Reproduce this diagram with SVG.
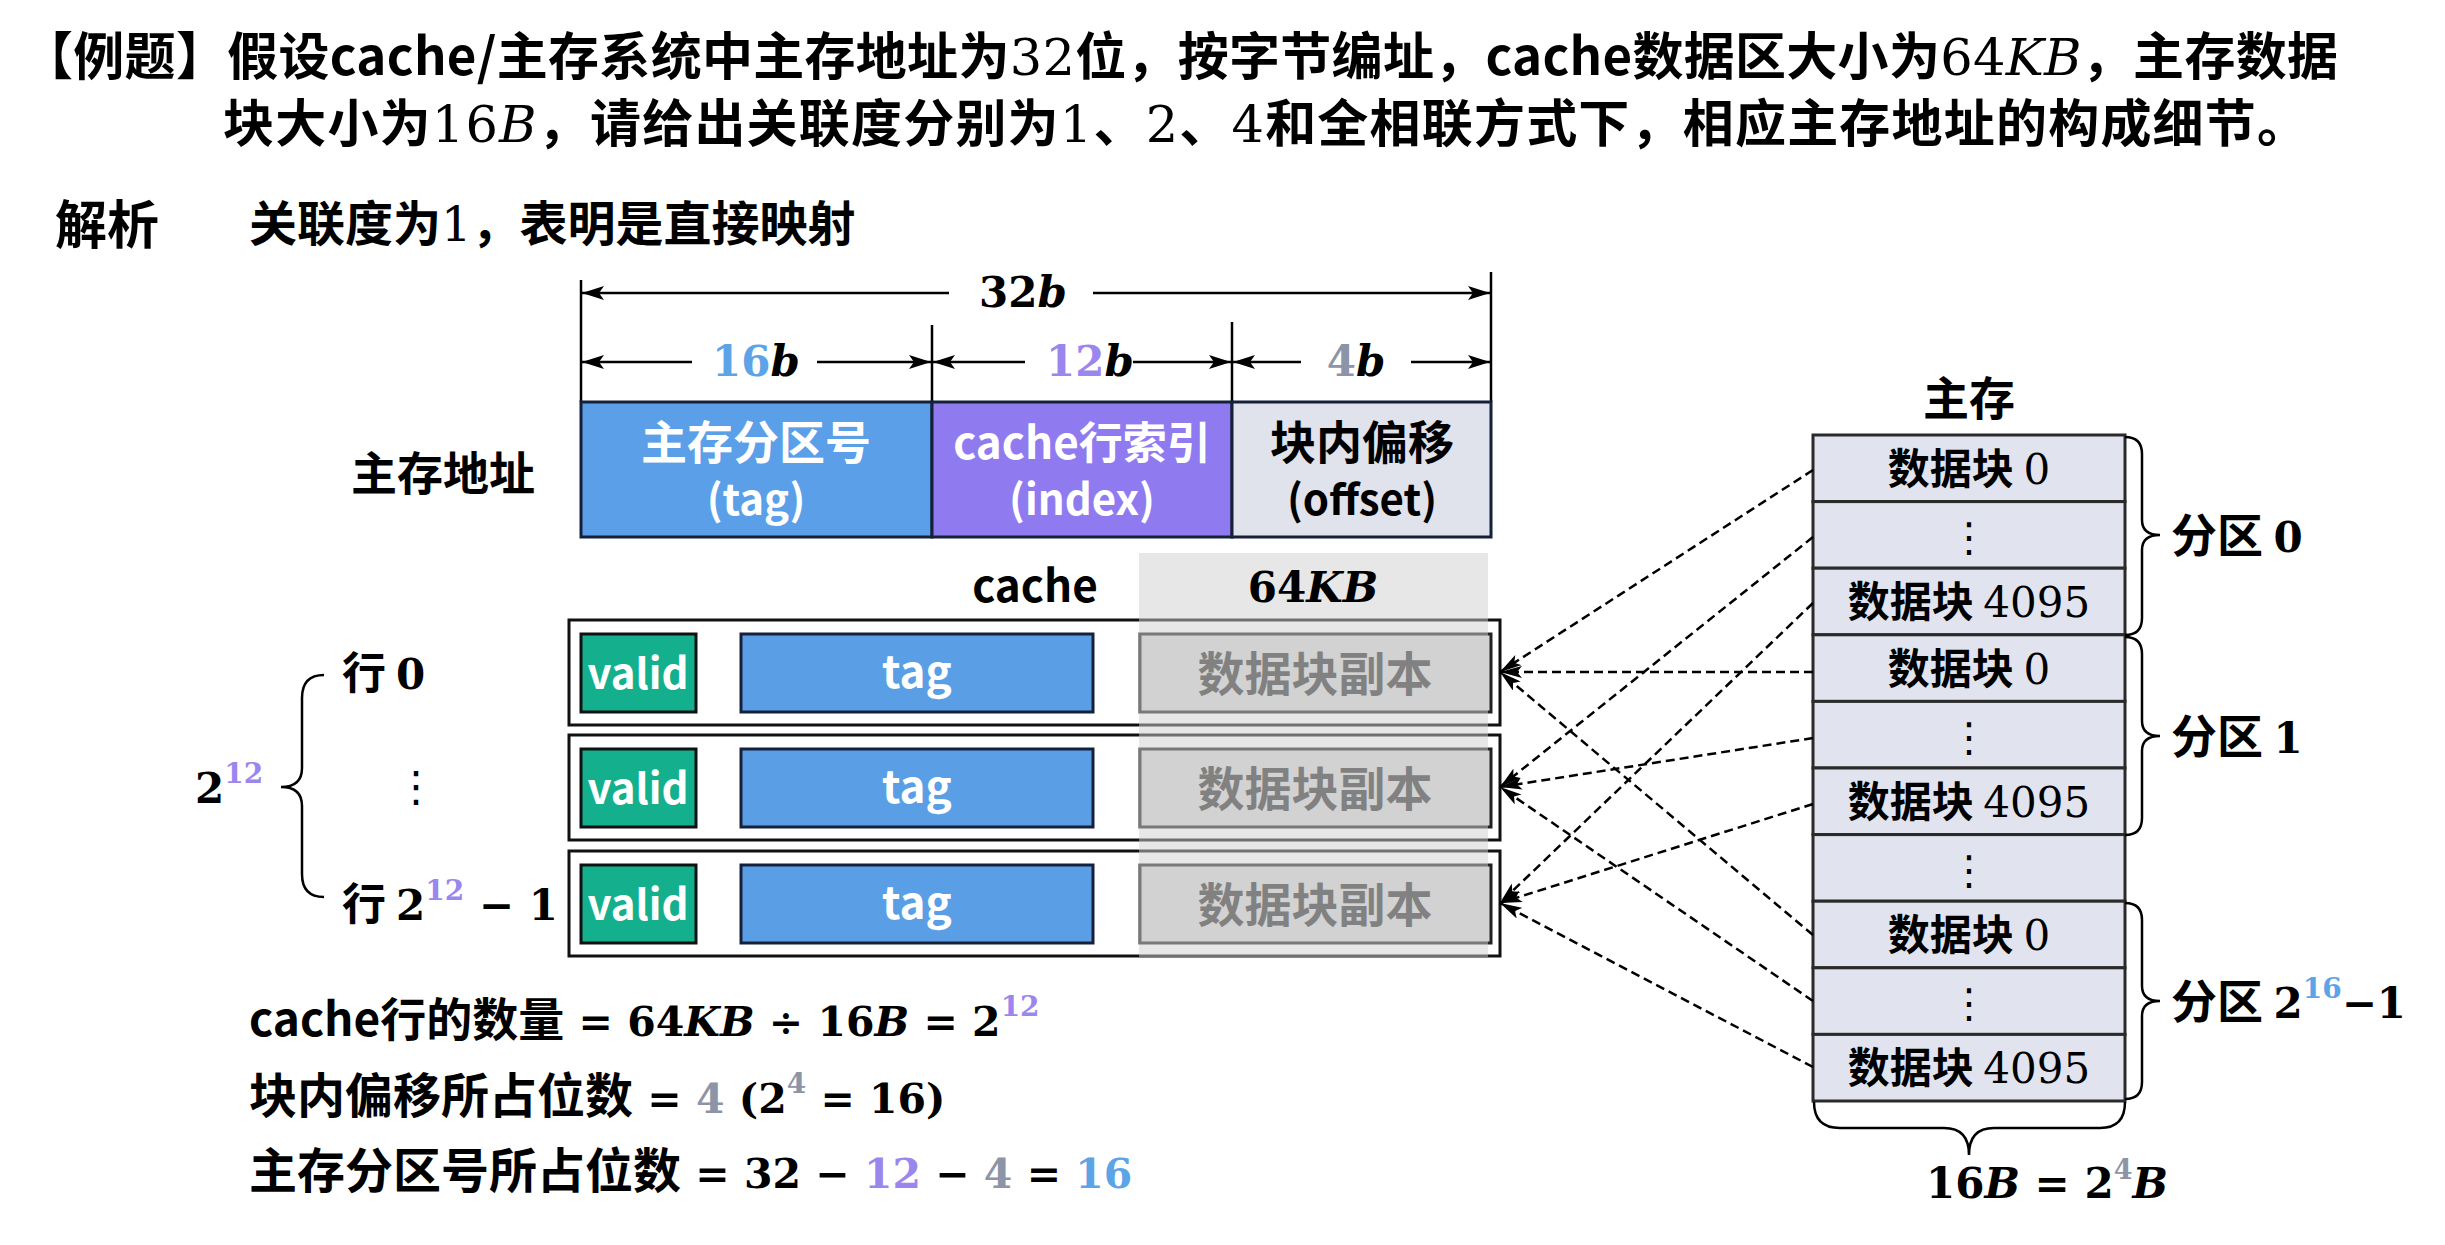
<svg xmlns="http://www.w3.org/2000/svg" width="2445" height="1245" viewBox="0 0 2445 1245">
<style>
.cn{font-family:"Noto Sans CJK SC","Liberation Sans",sans-serif;font-weight:700}
.m{font-family:"DejaVu Serif","Liberation Serif",serif;font-weight:400}
.mb{font-family:"DejaVu Serif","Liberation Serif",serif;font-weight:700}
.i{font-style:italic}
.w{fill:#ffffff}
.k{fill:#000000}
.blue{fill:#5DA4E6}
.purp{fill:#9B86EE}
.gry{fill:#8C94A8}
.dim{stroke:#000;stroke-width:2.5;fill:none}
.cell{fill:#E1E4EE;stroke:#2a2a2a;stroke-width:3}
.rowbox{fill:none;stroke:#111;stroke-width:3}
.valid{fill:#14B08D;stroke:#111;stroke-width:3}
.ctag{fill:#5A9FE6;stroke:#15213a;stroke-width:3}
.copy{fill:#D4D4D4;stroke:#222;stroke-width:3}
.brace{fill:none;stroke:#000;stroke-width:2.5}
.conn{fill:none;stroke:#000;stroke-width:2.5;stroke-dasharray:9 5}
.mid{text-anchor:middle}
.vd{font-family:"DejaVu Sans",sans-serif;font-weight:400}
</style>
<defs>
<marker id="dimArrow" viewBox="0 0 22 14" refX="22" refY="7" markerWidth="22" markerHeight="14" markerUnits="userSpaceOnUse" orient="auto">
<path d="M0,0 L22,7 L0,14 L5,7 Z" fill="#000"/>
</marker>
<marker id="conArrow" viewBox="0 0 22 12" refX="22" refY="6" markerWidth="22" markerHeight="12" markerUnits="userSpaceOnUse" orient="auto">
<path d="M0,0 L22,6 L0,12 L5,6 Z" fill="#000"/>
</marker>
</defs>
<rect x="0" y="0" width="2445" height="1245" fill="#ffffff"/>

<g id="title">
<text class="cn" x="22" y="75" font-size="51" textLength="2316" lengthAdjust="spacing">【例题】假设cache/主存系统中主存地址为<tspan class="m">32</tspan>位，按字节编址，cache数据区大小为<tspan class="m">64<tspan class="i">KB</tspan></tspan>，主存数据</text>
<text class="cn" x="223" y="142" font-size="51" textLength="2085" lengthAdjust="spacing">块大小为<tspan class="m">16<tspan class="i">B</tspan></tspan>，请给出关联度分别为<tspan class="m">1</tspan>、<tspan class="m">2</tspan>、<tspan class="m">4</tspan>和全相联方式下，相应主存地址的构成细节。</text>
<text class="cn" x="55" y="244" font-size="52">解析</text>
<text class="cn" x="249" y="241" font-size="48">关联度为<tspan class="m">1</tspan>，表明是直接映射</text>
</g>

<g id="address-label">
<text class="cn" x="443" y="490" font-size="46" text-anchor="middle">主存地址</text>
</g>

<g id="dimensions">
<line class="dim" x1="581" y1="280" x2="581" y2="402"/>
<line class="dim" x1="1491" y1="272" x2="1491" y2="402"/>
<line class="dim" x1="932" y1="325" x2="932" y2="402"/>
<line class="dim" x1="1232" y1="322" x2="1232" y2="402"/>
<line class="dim" x1="949" y1="293" x2="582" y2="293" marker-end="url(#dimArrow)"/>
<line class="dim" x1="1093" y1="293" x2="1490" y2="293" marker-end="url(#dimArrow)"/>
<line class="dim" x1="692" y1="362" x2="582" y2="362" marker-end="url(#dimArrow)"/>
<line class="dim" x1="817" y1="362" x2="931" y2="362" marker-end="url(#dimArrow)"/>
<line class="dim" x1="1025" y1="362" x2="933" y2="362" marker-end="url(#dimArrow)"/>
<line class="dim" x1="1133" y1="362" x2="1231" y2="362" marker-end="url(#dimArrow)"/>
<line class="dim" x1="1301" y1="362" x2="1233" y2="362" marker-end="url(#dimArrow)"/>
<line class="dim" x1="1411" y1="362" x2="1490" y2="362" marker-end="url(#dimArrow)"/>
<text class="mb mid" x="1023" y="307" font-size="42">32<tspan class="i">b</tspan></text>
<text class="mb mid" x="756" y="376" font-size="42"><tspan class="blue">16</tspan><tspan class="i">b</tspan></text>
<text class="mb mid" x="1090" y="376" font-size="42"><tspan class="purp">12</tspan><tspan class="i">b</tspan></text>
<text class="mb mid" x="1356" y="376" font-size="42"><tspan class="gry">4</tspan><tspan class="i">b</tspan></text>
</g>

<g id="address-tag">
<rect x="581" y="402" width="351" height="135" fill="#5A9FE8" stroke="#15213a" stroke-width="3"/>
<text class="cn w mid" x="756" y="459" font-size="46">主存分区号</text>
<text class="cn w mid" x="756" y="515" font-size="42">(tag)</text>
</g>
<g id="address-index">
<rect x="932" y="402" width="300" height="135" fill="#8F7BEF" stroke="#15213a" stroke-width="3"/>
<text class="cn w mid" x="1082" y="459" font-size="44">cache行索引</text>
<text class="cn w mid" x="1082" y="515" font-size="42">(index)</text>
</g>
<g id="address-offset">
<rect x="1232" y="402" width="259" height="135" fill="#E0E2EC" stroke="#15213a" stroke-width="3"/>
<text class="cn k mid" x="1362" y="459" font-size="46">块内偏移</text>
<text class="cn k mid" x="1362" y="515" font-size="42">(offset)</text>
</g>

<g id="cache-header">
<text class="cn mid" x="1035" y="602" font-size="44">cache</text>
</g>

<g id="cache-row-0">
<rect class="rowbox" x="569" y="620" width="931" height="105"/>
<rect class="valid" x="581" y="634" width="115" height="78"/>
<text class="cn w mid" x="638" y="689" font-size="42">valid</text>
<rect class="ctag" x="741" y="634" width="352" height="78"/>
<text class="cn w mid" x="917" y="688" font-size="44">tag</text>
<rect class="copy" x="1140" y="634" width="351" height="78"/>
<text class="cn mid" x="1315" y="691" font-size="47" fill="#333">数据块副本</text>
</g>
<g id="cache-row-1">
<rect class="rowbox" x="569" y="735" width="931" height="105"/>
<rect class="valid" x="581" y="749" width="115" height="78"/>
<text class="cn w mid" x="638" y="804" font-size="42">valid</text>
<rect class="ctag" x="741" y="749" width="352" height="78"/>
<text class="cn w mid" x="917" y="803" font-size="44">tag</text>
<rect class="copy" x="1140" y="749" width="351" height="78"/>
<text class="cn mid" x="1315" y="806" font-size="47" fill="#333">数据块副本</text>
</g>
<g id="cache-row-2">
<rect class="rowbox" x="569" y="851" width="931" height="105"/>
<rect class="valid" x="581" y="865" width="115" height="78"/>
<text class="cn w mid" x="638" y="920" font-size="42">valid</text>
<rect class="ctag" x="741" y="865" width="352" height="78"/>
<text class="cn w mid" x="917" y="919" font-size="44">tag</text>
<rect class="copy" x="1140" y="865" width="351" height="78"/>
<text class="cn mid" x="1315" y="922" font-size="47" fill="#333">数据块副本</text>
</g>

<g id="data-band">
<rect x="1139" y="553" width="349" height="404" fill="#D0D0D0" fill-opacity="0.5"/>
<text class="mb mid" x="1313" y="602" font-size="42">64<tspan class="i">KB</tspan></text>
</g>

<g id="row-labels">
<text class="cn" x="342" y="689" font-size="44">行 <tspan class="mb" font-size="42">0</tspan></text>
<text class="vd" x="416" y="801" font-size="42" text-anchor="middle">⋮</text>
<text class="cn" x="342" y="920" font-size="44">行 <tspan class="mb" font-size="42">2</tspan><tspan class="mb purp" font-size="28" dy="-20">12</tspan><tspan class="mb" font-size="42" dy="20"> − 1</tspan></text>
<path class="brace" d="M324,675 Q302,675 302,698 L302,768 Q302,787 281,787 Q302,787 302,806 L302,874 Q302,897 324,897"/>
<text class="mb" x="195" y="803" font-size="42">2<tspan class="purp" font-size="28" dy="-20">12</tspan></text>
</g>

<g id="main-memory">
<text class="cn mid" x="1969" y="415" font-size="46">主存</text>
<rect class="cell" x="1813" y="435" width="312" height="66.6"/>
<rect class="cell" x="1813" y="501.6" width="312" height="66.6"/>
<rect class="cell" x="1813" y="568.2" width="312" height="66.6"/>
<rect class="cell" x="1813" y="634.8" width="312" height="66.6"/>
<rect class="cell" x="1813" y="701.4" width="312" height="66.6"/>
<rect class="cell" x="1813" y="768" width="312" height="66.6"/>
<rect class="cell" x="1813" y="834.6" width="312" height="66.6"/>
<rect class="cell" x="1813" y="901.2" width="312" height="66.6"/>
<rect class="cell" x="1813" y="967.8" width="312" height="66.6"/>
<rect class="cell" x="1813" y="1034.4" width="312" height="66.6"/>
<text class="cn mid" x="1969" y="484" font-size="42">数据块 <tspan class="m">0</tspan></text>
<text class="vd mid" x="1969" y="551" font-size="40">⋮</text>
<text class="cn mid" x="1969" y="617" font-size="42">数据块 <tspan class="m">4095</tspan></text>
<text class="cn mid" x="1969" y="684" font-size="42">数据块 <tspan class="m">0</tspan></text>
<text class="vd mid" x="1969" y="751" font-size="40">⋮</text>
<text class="cn mid" x="1969" y="817" font-size="42">数据块 <tspan class="m">4095</tspan></text>
<text class="vd mid" x="1969" y="884" font-size="40">⋮</text>
<text class="cn mid" x="1969" y="950" font-size="42">数据块 <tspan class="m">0</tspan></text>
<text class="vd mid" x="1969" y="1017" font-size="40">⋮</text>
<text class="cn mid" x="1969" y="1083" font-size="42">数据块 <tspan class="m">4095</tspan></text>
</g>

<g id="partitions">
<path class="brace" d="M2125,437 Q2142,437 2142,454 L2142,520 Q2142,535 2160,535 Q2142,535 2142,550 L2142,618 Q2142,635 2125,635"/>
<path class="brace" d="M2125,637 Q2142,637 2142,654 L2142,721 Q2142,736 2160,736 Q2142,736 2142,751 L2142,818 Q2142,835 2125,835"/>
<path class="brace" d="M2125,903 Q2142,903 2142,920 L2142,986 Q2142,1001 2160,1001 Q2142,1001 2142,1016 L2142,1082 Q2142,1099 2125,1099"/>
<text class="cn" x="2171" y="552" font-size="46">分区 <tspan class="mb" font-size="42">0</tspan></text>
<text class="cn" x="2171" y="753" font-size="46">分区 <tspan class="mb" font-size="42">1</tspan></text>
<text class="cn" x="2171" y="1018" font-size="46">分区 <tspan class="mb" font-size="42">2</tspan><tspan class="mb blue" font-size="28" dy="-20">16</tspan><tspan class="mb" font-size="42" dy="20">−1</tspan></text>
<path class="brace" d="M1814,1102 Q1814,1128 1840,1128 L1944,1128 Q1969,1128 1969,1155 Q1969,1128 1994,1128 L2100,1128 Q2125,1128 2125,1102"/>
<text class="mb" x="1926" y="1198" font-size="42">16<tspan class="i">B</tspan> = 2<tspan class="gry" font-size="27" dy="-19">4</tspan><tspan class="i" dy="19">B</tspan></text>
</g>

<g id="connectors">
<line class="conn" x1="1813" y1="470" x2="1500" y2="672" marker-end="url(#conArrow)"/>
<line class="conn" x1="1813" y1="537" x2="1500" y2="787" marker-end="url(#conArrow)"/>
<line class="conn" x1="1813" y1="603" x2="1500" y2="903" marker-end="url(#conArrow)"/>
<line class="conn" x1="1813" y1="672" x2="1500" y2="672" marker-end="url(#conArrow)"/>
<line class="conn" x1="1813" y1="738" x2="1500" y2="787" marker-end="url(#conArrow)"/>
<line class="conn" x1="1813" y1="804" x2="1500" y2="903" marker-end="url(#conArrow)"/>
<line class="conn" x1="1813" y1="935" x2="1500" y2="672" marker-end="url(#conArrow)"/>
<line class="conn" x1="1813" y1="1001" x2="1500" y2="787" marker-end="url(#conArrow)"/>
<line class="conn" x1="1813" y1="1067" x2="1500" y2="903" marker-end="url(#conArrow)"/>
</g>

<g id="formulas">
<text class="cn" x="249" y="1036" font-size="46">cache行的数量<tspan class="mb" font-size="41"> = 64<tspan class="i">KB</tspan> ÷ 16<tspan class="i">B</tspan> = 2</tspan><tspan class="mb purp" font-size="28" dy="-20">12</tspan></text>
<text class="cn" x="249" y="1113" font-size="48">块内偏移所占位数<tspan class="mb" font-size="41"> = <tspan class="gry">4</tspan> (2</tspan><tspan class="mb gry" font-size="28" dy="-20">4</tspan><tspan class="mb" font-size="41" dy="20"> = 16)</tspan></text>
<text class="cn" x="249" y="1188" font-size="48">主存分区号所占位数<tspan class="mb" font-size="41"> = 32 − <tspan class="purp">12</tspan> − <tspan class="gry">4</tspan> = <tspan class="blue">16</tspan></tspan></text>
</g>
</svg>
